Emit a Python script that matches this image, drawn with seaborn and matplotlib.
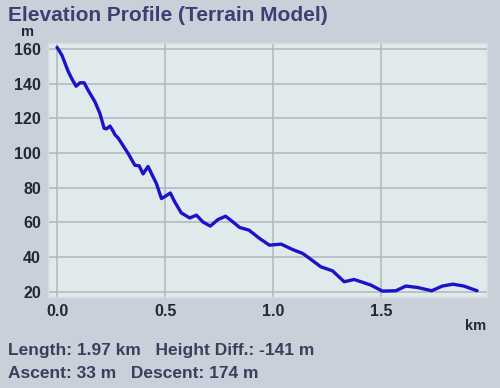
import numpy as np
import pandas as pd
import seaborn as sns
import matplotlib.pyplot as plt

# Profile values
distance_km = [0.0, 0.022, 0.052, 0.068, 0.088, 0.106, 0.125, 0.145, 0.175, 0.198,
               0.218, 0.228, 0.245, 0.258, 0.268, 0.283, 0.329, 0.36, 0.38, 0.398,
               0.421, 0.46, 0.483, 0.5, 0.524, 0.545, 0.575, 0.614, 0.645, 0.675,
               0.709, 0.745, 0.78, 0.814, 0.845, 0.888, 0.937, 0.983, 1.037, 1.09,
               1.137, 1.175, 1.221, 1.275, 1.329, 1.375, 1.421, 1.452, 1.506, 1.568,
               1.614, 1.668, 1.734, 1.783, 1.832, 1.883, 1.944]
elevation_m = [161, 156.6, 147, 143, 138.6, 140.6, 140.6, 136, 129.7, 123,
               114.3, 114, 115.6, 113, 110.6, 108.7, 99.8, 93, 92.7, 88,
               92.3, 82.4, 73.8, 75, 77, 71.8, 65.5, 62.6, 64.2, 60.3,
               57.9, 61.7, 63.6, 60.3, 57.1, 55.6, 50.8, 46.9, 47.5, 44.4,
               42.1, 38.7, 34.4, 32.1, 25.8, 27.1, 25.2, 23.9, 20.4, 20.6,
               23.3, 22.5, 20.6, 23.3, 24.4, 23.3, 20.6]

x_ticks = [0.0, 0.5, 1.0, 1.5]
y_ticks = [20, 40, 60, 80, 100, 120, 140, 160]

title = "Elevation Profile (Terrain Model)"
info_line1 = "Length: 1.97 km   Height Diff.: -141 m"
info_line2 = "Ascent: 33 m   Descent: 174 m"

df = pd.DataFrame({"km": distance_km, "m": elevation_m})

sns.set_style("whitegrid")
plt.rcParams["font.family"] = ["Liberation Sans", "DejaVu Sans"]
plt.rcParams["font.weight"] = "bold"

fig = plt.figure(figsize=(5, 3.88), dpi=100, facecolor="#c9d0da")
ax = fig.add_axes([0.096, 0.235, 0.878, 0.654])
ax.set_facecolor("#e0e9eb")

sns.lineplot(data=df, x="km", y="m", ax=ax, color="#1a14c8", linewidth=2.4)

ax.set_xlim(-0.042, 1.99)
ax.set_ylim(17.1, 163.5)
ax.set_xticks(x_ticks)
ax.set_yticks(y_ticks)
ax.set_xticklabels([f"{t:.1f}" for t in x_ticks])
ax.grid(True, color="#b4b9be", linewidth=1.2)
ax.tick_params(length=0, labelsize=11.5, labelcolor="#1e2a3a", pad=5)
for s in ax.spines.values():
    s.set_color("#d4dcdf")
    s.set_linewidth(1)
ax.set_xlabel("")
ax.set_ylabel("")

fig.text(0.016, 0.985, title, fontsize=15, fontweight="bold", color="#3d4070", va="top")
fig.text(0.054, 0.9, "m", fontsize=10.5, fontweight="bold", color="#1e2a3a", ha="center", va="bottom")
fig.text(0.952, 0.15, "km", fontsize=10.5, fontweight="bold", color="#1e2a3a", ha="center")
fig.text(0.016, 0.085, info_line1, fontsize=12.5, fontweight="bold", color="#3a3f5c")
fig.text(0.016, 0.027, info_line2, fontsize=12.5, fontweight="bold", color="#3a3f5c")

plt.savefig("out.png", dpi=100, facecolor=fig.get_facecolor())
